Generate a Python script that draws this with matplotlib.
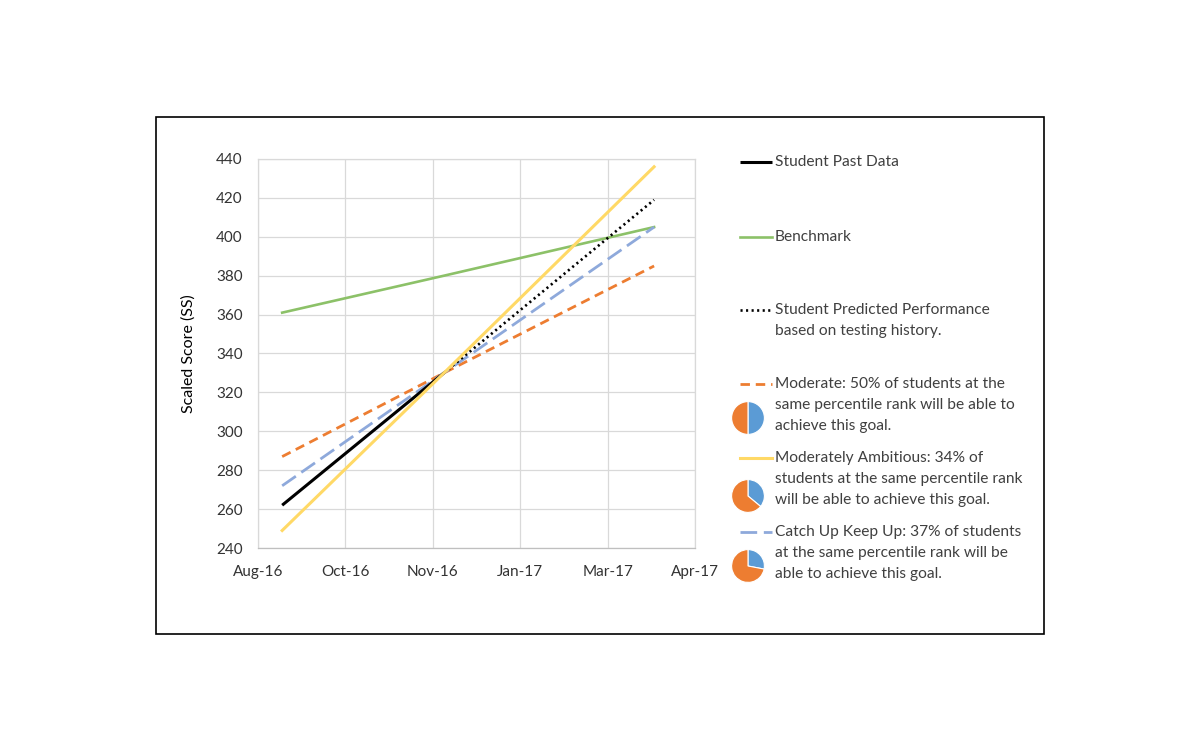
import numpy as np
import matplotlib
matplotlib.use("Agg")
import matplotlib.pyplot as plt
import matplotlib.dates as mdates
from matplotlib.patches import Rectangle
from matplotlib.lines import Line2D

plt.rcParams["font.family"] = ["Lato", "DejaVu Sans"]

# data
dates = np.array(["2016-09-07", "2016-12-03", "2017-03-26"], dtype="datetime64[D]")
past_dates = dates[:2]
past_scores = [262, 330]
pred_dates = dates[1:]
pred_scores = [330, 419]
benchmark = [361, 380, 405]
moderate = [287, 330, 385]
ambitious = [249, 330, 436]
catch_up = [272, 330, 405]

tick_dates = np.array(["2016-08-25", "2016-10-11", "2016-11-27",
                       "2017-01-13", "2017-03-01", "2017-04-17"], dtype="datetime64[D]")

pie_pcts = [50, 36, 28]

legend_labels = [
    ["Student Past Data"],
    ["Benchmark"],
    ["Student Predicted Performance", "based on testing history."],
    ["Moderate: 50% of students at the", "same percentile rank will be able to", "achieve this goal."],
    ["Moderately Ambitious: 34% of", "students at the same percentile rank", "will be able to achieve this goal."],
    ["Catch Up Keep Up: 37% of students", "at the same percentile rank will be", "able to achieve this goal."],
]

c_black = "#000000"
c_green = "#8CC168"
c_orange = "#ED7D31"
c_yellow = "#FFD966"
c_blue = "#8EA9DB"
pie_blue = "#5B9BD5"
pie_orange = "#ED7D31"
txt = "#333333"

W, H = 1200, 752
fig = plt.figure(figsize=(W / 100, H / 100), dpi=100)

# outer frame
frame = fig.add_axes([0, 0, 1, 1])
frame.set_xlim(0, W)
frame.set_ylim(H, 0)
frame.axis("off")
frame.add_patch(Rectangle((156, 117), 888, 517, fill=False, ec="black", lw=1.2))

ax = fig.add_axes([258 / W, 1 - 548 / H, (695 - 258) / W, (548 - 159) / H])

styles = {
    "past": dict(color=c_black, lw=2.2, solid_capstyle="butt"),
    "bench": dict(color=c_green, lw=1.9),
    "pred": dict(color=c_black, lw=1.9, linestyle=(0, (0.8, 1.3))),
    "mod": dict(color=c_orange, lw=2.0, linestyle=(0, (3.4, 2.1))),
    "amb": dict(color=c_yellow, lw=2.2),
    "cu": dict(color=c_blue, lw=2.0, linestyle=(0, (6.0, 2.4))),
}

ax.plot(dates.astype("datetime64[ns]"), benchmark, **styles["bench"])
ax.plot(dates.astype("datetime64[ns]"), moderate, **styles["mod"])
ax.plot(dates.astype("datetime64[ns]"), catch_up, **styles["cu"])
ax.plot(past_dates.astype("datetime64[ns]"), past_scores, **styles["past"])
ax.plot(pred_dates.astype("datetime64[ns]"), pred_scores, **styles["pred"])
ax.plot(dates.astype("datetime64[ns]"), ambitious, **styles["amb"])

ax.set_xlim(tick_dates[0].astype("datetime64[ns]"), tick_dates[-1].astype("datetime64[ns]"))
ax.set_xticks(tick_dates.astype("datetime64[ns]"))
ax.xaxis.set_major_formatter(mdates.DateFormatter("%b-%y"))
ax.set_ylim(240, 440)
ax.set_yticks(np.arange(240, 441, 20))
ax.grid(True, color="#D9D9D9", lw=0.9)
ax.set_axisbelow(True)
for s in ax.spines.values():
    s.set_color("#D9D9D9")
    s.set_linewidth(0.9)
ax.spines["bottom"].set_color("#BFBFBF")
ax.tick_params(length=0, labelsize=11, colors=txt)
ax.tick_params(axis="y", pad=11)
ax.tick_params(axis="x", pad=12)
ax.set_ylabel("Scaled Score (SS)", fontsize=11.5, color="black", labelpad=15)

# legend drawn by hand on the right
sample_x = (740, 772)
text_x = 775
first_y = [162, 237, 310, 384, 458, 532]
line_gap = 21
keys = ["past", "bench", "pred", "mod", "amb", "cu"]
for key, lines, y0 in zip(keys, legend_labels, first_y):
    frame.add_line(Line2D(sample_x, [y0, y0], **styles[key]))
    for i, line in enumerate(lines):
        frame.text(text_x, y0 + i * line_gap, line, fontsize=11.2, color="#404040",
                   va="center", ha="left")

pie_centers = [418, 496, 566]
r = 20.5
for pct, cy in zip(pie_pcts, pie_centers):
    pax = fig.add_axes([(748 - r) / W, 1 - (cy + r) / H, 2 * r / W, 2 * r / H])
    pax.pie([pct, 100 - pct], colors=[pie_blue, pie_orange], startangle=90,
            counterclock=False, wedgeprops=dict(edgecolor="white", linewidth=0.8))
    pax.set_aspect("equal")

fig.savefig("out.png", dpi=100, facecolor="white")
